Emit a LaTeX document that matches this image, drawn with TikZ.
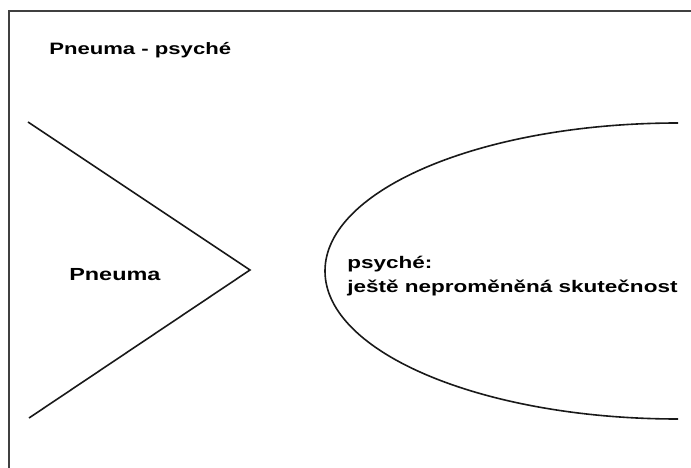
\documentclass[tikz,border=0pt]{standalone}
\usepackage{fontspec}
\setmainfont{Liberation Sans}
\usepackage{tikz}

\begin{document}
\begin{tikzpicture}[x=1pt, y=-1pt,
        label/.style={inner sep=0pt, anchor=base west, xscale=1.34, font=\bfseries\fontsize{16.5}{24}\selectfont},
        outline/.style={line width=1.6pt, black!90}]
        \useasboundingbox (0,0) rectangle (691,468);
        
        % Frame
        \draw[line width=1.6pt, black!75] (9,468) -- (9,11) -- (691,11);
        \node[label] (title) at (49,55) {Pneuma - psyché};
        
        % Pneuma
        \coordinate (ptop) at (28,122);
        \coordinate (ptip) at (250,270);
        \coordinate (pbot) at (29,418);
        \draw[outline] (ptop) -- (ptip) -- (pbot);
        \node[label, font=\bfseries\fontsize{17.5}{24}\selectfont] (pneuma) at (69,280) {Pneuma};
        
        % Psyche
        \coordinate (stop) at (678,123);
        \draw[outline] (stop) arc[start angle=90, end angle=270, x radius=353pt, y radius=148pt];
        \node[label, align=left, font=\bfseries\fontsize{16.8}{24}\selectfont] (psyche) at (347,292) {psyché:\\ještě neproměněná skutečnost};
    \end{tikzpicture}
\end{document}
